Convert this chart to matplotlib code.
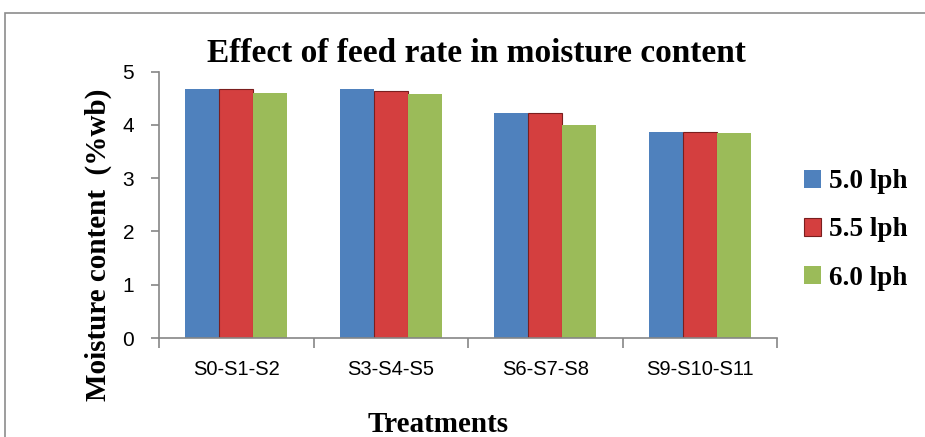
"""Bar chart: effect of feed rate on moisture content."""

import numpy as np
import matplotlib
matplotlib.use('Agg')
import matplotlib.pyplot as plt
from matplotlib.patches import Rectangle

categories = ['S0-S1-S2', 'S3-S4-S5', 'S6-S7-S8', 'S9-S10-S11']
series_names = ['5.0 lph', '5.5 lph', '6.0 lph']
lph_50 = [4.68, 4.68, 4.22, 3.86]
lph_55 = [4.67, 4.64, 4.22, 3.87]
lph_60 = [4.60, 4.58, 4.00, 3.85]
yticks = [0, 1, 2, 3, 4, 5]

colors = ['#4F81BD', '#D43F3F', '#9BBB59']
edges = ['#4F81BD', '#7A1E1E', '#9BBB59']

fig = plt.figure(figsize=(9.25, 4.37), dpi=100)
# outer chart frame
fig.patches.append(Rectangle((5 / 925, -0.05), 1.0, (437 - 13) / 437 + 0.05,
                             transform=fig.transFigure, fill=False,
                             edgecolor='#8C8C8C', linewidth=1.2))

ax = fig.add_axes([159 / 925, 99 / 437, 618 / 925, 266.5 / 437])

x = np.arange(len(categories))
w = 0.22
for i, vals in enumerate([lph_50, lph_55, lph_60]):
    ax.bar(x + (i - 1) * w, vals, w, color=colors[i], edgecolor=edges[i],
           linewidth=0.8 if i == 1 else 0, label=series_names[i], zorder=2)

ax.set_xlim(-0.5, len(categories) - 0.5)
ax.set_ylim(0, 5)
ax.set_yticks(yticks)
ax.set_yticklabels([str(t) for t in yticks], fontsize=15, family='Liberation Sans')
ax.set_xticks(x)
ax.set_xticklabels(categories, fontsize=14.5, family='Liberation Sans')
ax.tick_params(axis='x', length=0, pad=16)
ax.set_xticks(np.arange(-0.5, len(categories)), minor=True)
ax.tick_params(axis='x', which='minor', length=7, color='#868686', width=1.2)
ax.tick_params(axis='y', length=6, color='#868686', width=1.2, pad=12)

for s in ['top', 'right']:
    ax.spines[s].set_visible(False)
for s in ['left', 'bottom']:
    ax.spines[s].set_color('#868686')
    ax.spines[s].set_linewidth(1.2)

fig.text(476 / 925, 1 - 53 / 437, 'Effect of feed rate in moisture content',
         ha='center', va='center', fontsize=24, fontweight='bold',
         family='Liberation Serif')
fig.text(98 / 925, 1 - 245 / 437, 'Moisture content  (%wb)', rotation=90,
         ha='center', va='center', fontsize=21, fontweight='bold',
         family='Liberation Serif')
fig.text(438 / 925, 1 - 425 / 437, 'Treatments', ha='center', va='center',
         fontsize=21, fontweight='bold', family='Liberation Serif')

leg = fig.legend(loc='center left', bbox_to_anchor=(780 / 925, 1 - 230 / 437),
                 frameon=False, prop={'family': 'Liberation Serif', 'weight': 'bold', 'size': 19.5},
                 handlelength=0.6, handleheight=0.6, handletextpad=0.3,
                 labelspacing=0.85)

fig.savefig('out.png', dpi=100)
